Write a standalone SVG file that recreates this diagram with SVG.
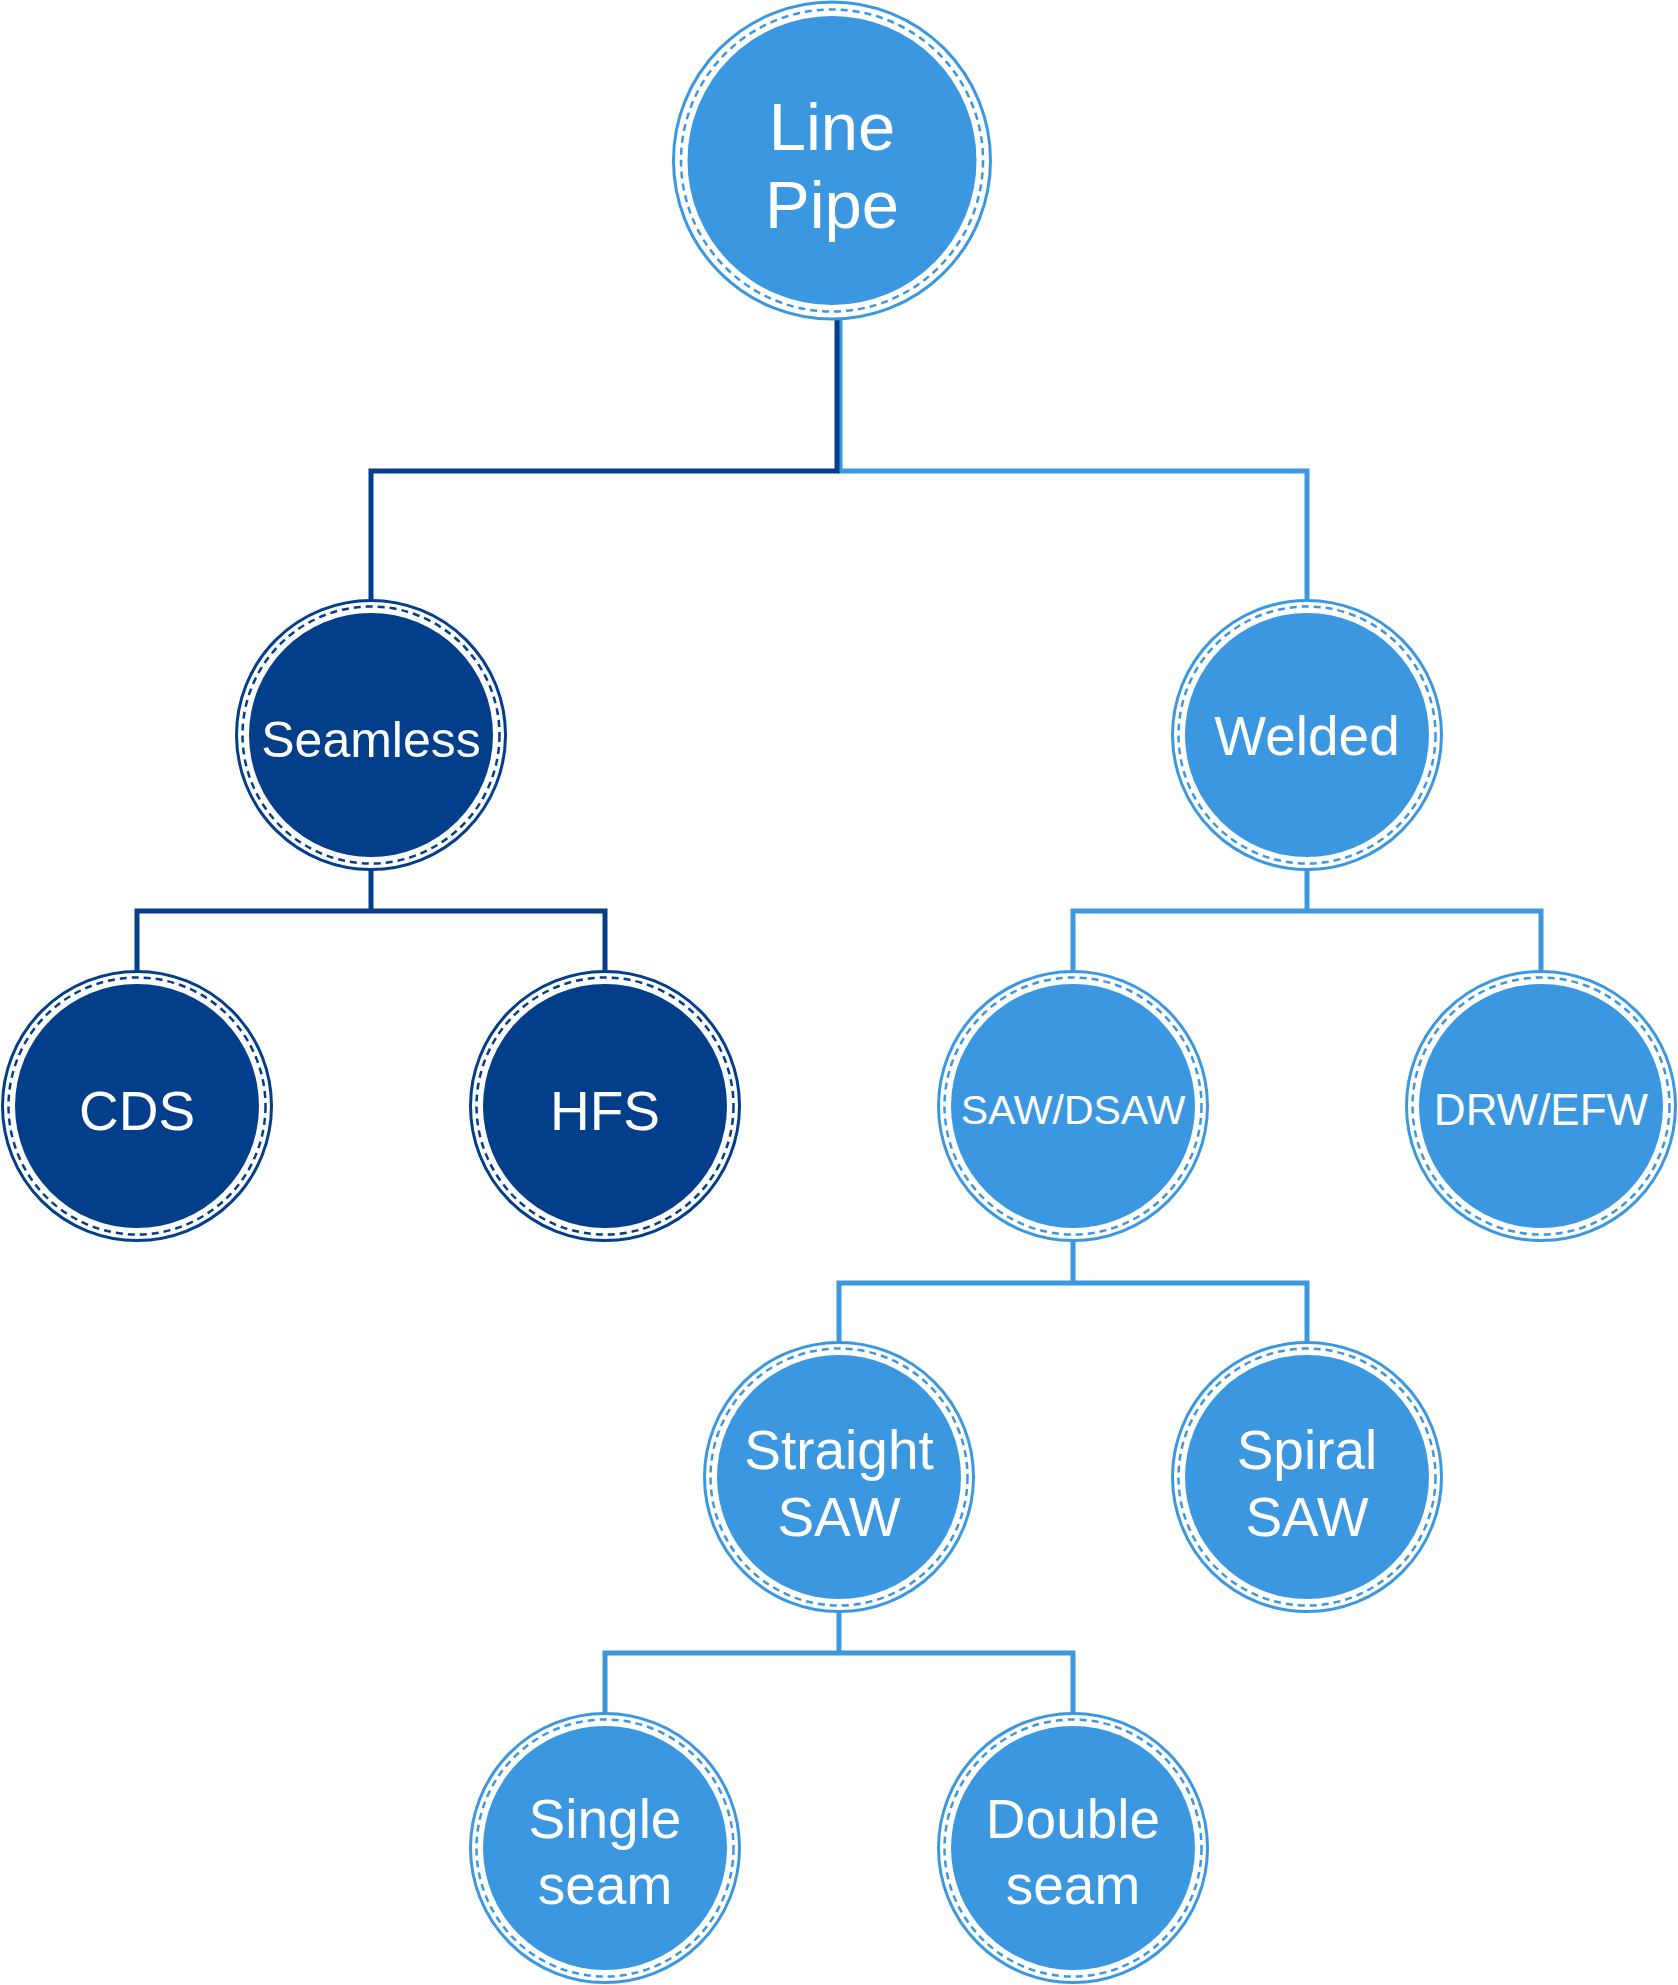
<svg xmlns="http://www.w3.org/2000/svg" width="1678" height="1985" viewBox="0 0 1678 1985">
<style>
.ring{fill:none;stroke-width:3}
.dash{fill:none;stroke-width:2.5;stroke-dasharray:7 5}
.lt .ring,.lt .dash{stroke:#3b98e0}
.lt .core{fill:#3b98e0}
.dk .ring,.dk .dash{stroke:#023e8a}
.dk .core{fill:#023e8a}
.lbl{fill:#ffffff;font-family:"Liberation Sans",Arial,sans-serif;text-anchor:middle}
.c{fill:none;stroke-width:5;stroke-linejoin:miter;stroke-linecap:butt}
.cl{stroke:#3b98e0}
.cd{stroke:#023e8a}
</style>
<rect width="1678" height="1985" fill="#ffffff"/>
<g id="connectors">
<path class="c cl" d="M840,320 V471 H1307 V600"/>
<path class="c cd" d="M837,320 V471 H371 V600"/>
<path class="c cd" d="M371,870 V911 M137,971 V911 H605 V971"/>
<path class="c cl" d="M1307,869 V911 M1073,971 V911 H1541 V971"/>
<path class="c cl" d="M1073,1241 V1283 M839,1343 V1283 H1307 V1343"/>
<path class="c cl" d="M839,1612 V1653 M605,1713 V1653 H1073 V1713"/>
</g>
<g id="line-pipe" class="lt">
<circle class="ring" cx="832" cy="160.5" r="158.5"/>
<circle class="dash" cx="832" cy="160.5" r="151"/>
<circle class="core" cx="832" cy="160.5" r="144.5"/>
<text class="lbl" x="832" y="150" font-size="67">Line</text>
<text class="lbl" x="832" y="228" font-size="67">Pipe</text>
</g>
<g id="seamless" class="dk">
<circle class="ring" cx="371" cy="735" r="134.5"/>
<circle class="dash" cx="371" cy="735" r="128.5"/>
<circle class="core" cx="371" cy="735" r="122"/>
<text class="lbl" x="371" y="757" font-size="50">Seamless</text>
</g>
<g id="welded" class="lt">
<circle class="ring" cx="1307" cy="735" r="134.5"/>
<circle class="dash" cx="1307" cy="735" r="128.5"/>
<circle class="core" cx="1307" cy="735" r="122"/>
<text class="lbl" x="1307" y="755" font-size="55">Welded</text>
</g>
<g id="cds" class="dk">
<circle class="ring" cx="137" cy="1106" r="134.5"/>
<circle class="dash" cx="137" cy="1106" r="128.5"/>
<circle class="core" cx="137" cy="1106" r="122"/>
<text class="lbl" x="137" y="1130" font-size="55">CDS</text>
</g>
<g id="hfs" class="dk">
<circle class="ring" cx="605" cy="1106" r="134.5"/>
<circle class="dash" cx="605" cy="1106" r="128.5"/>
<circle class="core" cx="605" cy="1106" r="122"/>
<text class="lbl" x="605" y="1130" font-size="55">HFS</text>
</g>
<g id="saw-dsaw" class="lt">
<circle class="ring" cx="1073" cy="1106" r="134.5"/>
<circle class="dash" cx="1073" cy="1106" r="128.5"/>
<circle class="core" cx="1073" cy="1106" r="122"/>
<text class="lbl" x="1073" y="1124" font-size="41">SAW/DSAW</text>
</g>
<g id="drw-efw" class="lt">
<circle class="ring" cx="1541" cy="1106" r="134.5"/>
<circle class="dash" cx="1541" cy="1106" r="128.5"/>
<circle class="core" cx="1541" cy="1106" r="122"/>
<text class="lbl" x="1541" y="1125" font-size="44">DRW/EFW</text>
</g>
<g id="straight-saw" class="lt">
<circle class="ring" cx="839" cy="1477" r="134.5"/>
<circle class="dash" cx="839" cy="1477" r="128.5"/>
<circle class="core" cx="839" cy="1477" r="122"/>
<text class="lbl" x="839" y="1469" font-size="55">Straight</text>
<text class="lbl" x="839" y="1536" font-size="55">SAW</text>
</g>
<g id="spiral-saw" class="lt">
<circle class="ring" cx="1307" cy="1477" r="134.5"/>
<circle class="dash" cx="1307" cy="1477" r="128.5"/>
<circle class="core" cx="1307" cy="1477" r="122"/>
<text class="lbl" x="1307" y="1469" font-size="55">Spiral</text>
<text class="lbl" x="1307" y="1536" font-size="55">SAW</text>
</g>
<g id="single-seam" class="lt">
<circle class="ring" cx="605" cy="1848" r="134.5"/>
<circle class="dash" cx="605" cy="1848" r="128.5"/>
<circle class="core" cx="605" cy="1848" r="122"/>
<text class="lbl" x="605" y="1838" font-size="55">Single</text>
<text class="lbl" x="605" y="1904" font-size="55">seam</text>
</g>
<g id="double-seam" class="lt">
<circle class="ring" cx="1073" cy="1848" r="134.5"/>
<circle class="dash" cx="1073" cy="1848" r="128.5"/>
<circle class="core" cx="1073" cy="1848" r="122"/>
<text class="lbl" x="1073" y="1838" font-size="55">Double</text>
<text class="lbl" x="1073" y="1904" font-size="55">seam</text>
</g>
</svg>
